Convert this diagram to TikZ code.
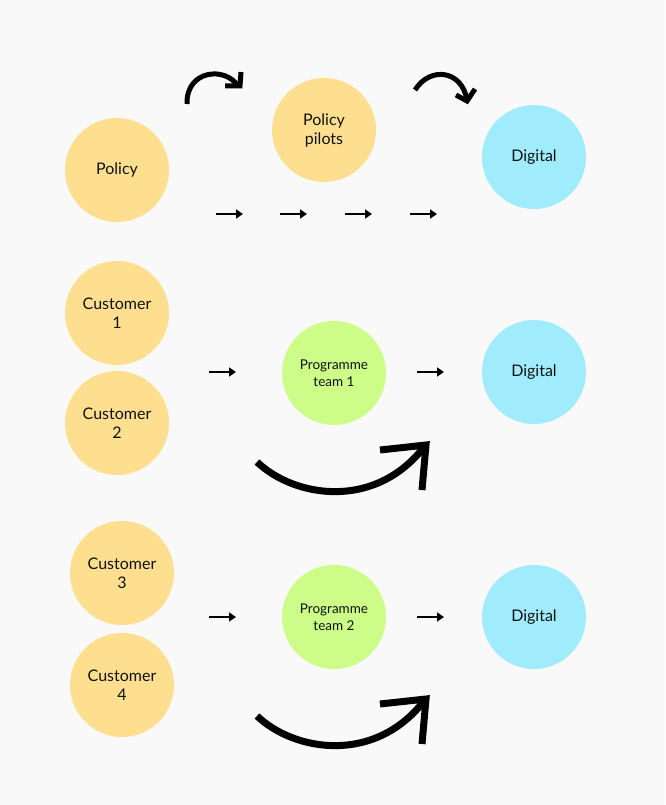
\documentclass[tikz,border=0pt]{standalone}
\usepackage{fontspec}
\setmainfont{Lato}
\usetikzlibrary{arrows.meta}
\definecolor{bgc}{HTML}{F9F9F9}
\definecolor{orangec}{HTML}{FEDF8F}
\definecolor{greenc}{HTML}{CDFC88}
\definecolor{cyanc}{HTML}{A1ECFC}
\definecolor{inkc}{HTML}{111111}
\tikzset{
  bubble/.style={circle, minimum size=104pt, inner sep=0pt, align=center, text=inkc, font=\fontsize{16}{19}\selectfont},
  orangeb/.style={bubble, fill=orangec},
  greenb/.style={bubble, fill=greenc, font=\fontsize{13.5}{17}\selectfont},
  cyanb/.style={bubble, fill=cyanc},
  small/.style={line width=2.3pt, -{Triangle[length=7pt,width=9pt]}},
  bigcurve/.style={line width=7pt, line cap=butt},
  topcurve/.style={line width=5pt, line cap=butt},
}
\begin{document}
\begin{tikzpicture}[x=1pt,y=-1pt]
\fill[bgc] (0,0) rectangle (665,805);
\useasboundingbox (0,0) rectangle (665,805);

% nodes
\node[orangeb] (policy) at (117,170) {Policy};
\node[orangeb] (pilots) at (324,130) {Policy\\pilots};
\node[cyanb] (dig1) at (534,157) {Digital};

\node[orangeb] (c1) at (117,313) {Customer\\1};
\node[orangeb] (c2) at (117,423) {Customer\\2};
\node[greenb] (pt1) at (334,373) {Programme\\team 1};
\node[cyanb] (dig2) at (534,372) {Digital};

\node[orangeb] (c3) at (122,573) {Customer\\3};
\node[orangeb] (c4) at (122,685) {Customer\\4};
\node[greenb] (pt2) at (334,617) {Programme\\team 2};
\node[cyanb] (dig3) at (534,617) {Digital};

% small arrows row 1
\coordinate (a1s) at (216,214); \coordinate (a1e) at (243,214);
\coordinate (a2s) at (280,214); \coordinate (a2e) at (307,214);
\coordinate (a3s) at (345,214); \coordinate (a3e) at (372,214);
\coordinate (a4s) at (410,214); \coordinate (a4e) at (437,214);
\draw[small] (a1s) -- (a1e);
\draw[small] (a2s) -- (a2e);
\draw[small] (a3s) -- (a3e);
\draw[small] (a4s) -- (a4e);

% small arrows row 2 and 3
\coordinate (b1s) at (209,372); \coordinate (b1e) at (236,372);
\coordinate (b2s) at (417,372); \coordinate (b2e) at (444,372);
\coordinate (d1s) at (209,617); \coordinate (d1e) at (236,617);
\coordinate (d2s) at (417,617); \coordinate (d2e) at (444,617);
\draw[small] (b1s) -- (b1e);
\draw[small] (b2s) -- (b2e);
\draw[small] (d1s) -- (d1e);
\draw[small] (d2s) -- (d2e);

% top curved arrows
\draw[topcurve] (187,104) .. controls (186,70) and (225,66) .. (238,86);
\draw[topcurve, line join=miter] (241,72) -- (240,86) -- (225,86);
\draw[topcurve] (415,90) .. controls (430,66) and (462,70) .. (467,100);
\draw[topcurve, line join=miter] (475,89) -- (467,101) -- (456,95);

% big curved arrows
\draw[bigcurve] (257,462) .. controls (295,498) and (375,510) .. (424,447);
\draw[bigcurve, line join=miter] (380,450) -- (426,445) -- (422,490);
\draw[bigcurve] (257,716) .. controls (295,752) and (375,764) .. (424,701);
\draw[bigcurve, line join=miter] (380,704) -- (426,699) -- (422,744);
\end{tikzpicture}
\end{document}
